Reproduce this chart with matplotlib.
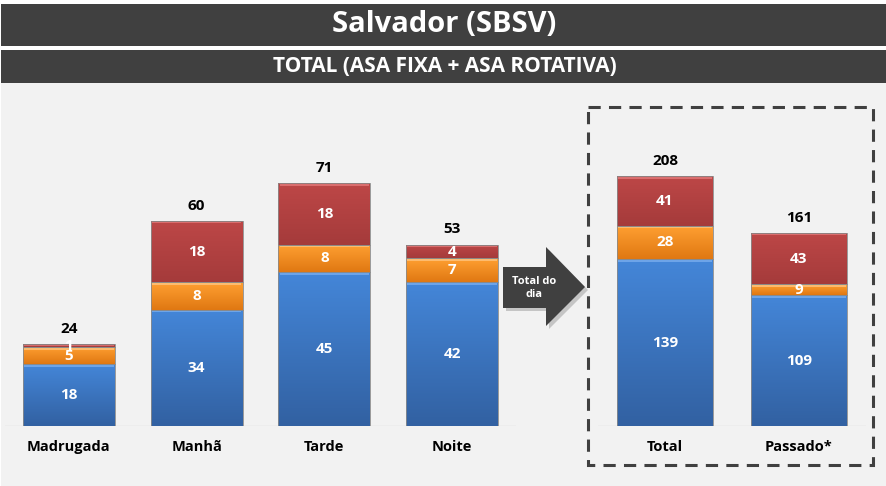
import numpy as np
import matplotlib.pyplot as plt
from matplotlib.patches import Rectangle, Polygon
from matplotlib.colors import to_rgb

plt.rcParams['font.family'] = ['Open Sans', 'DejaVu Sans']

# dados
periodos = ['Madrugada', 'Manhã', 'Tarde', 'Noite']
azul = [18, 34, 45, 42]
laranja = [5, 8, 8, 7]
vermelho = [1, 18, 18, 4]

resumo = ['Total', 'Passado*']
resumo_azul = [139, 109]
resumo_laranja = [28, 9]
resumo_vermelho = [41, 43]

W, H = 887, 486
BASE = 426

# cores: (topo, base, brilho)
CORES = {
    'azul': ('#4486d8', '#3261a2', '#7fb2f0'),
    'laranja': ('#ffa032', '#e07812', '#ffc98a'),
    'vermelho': ('#bd4747', '#a53b3b', '#e88080'),
}


def px_box(x0, y0, x1, y1):
    return [x0 / W, 1 - y1 / H, (x1 - x0) / W, (y1 - y0) / H]


def draw_stack(ax, cats, series, width, px_per_unit):
    x = np.arange(len(cats))
    bottom = np.zeros(len(cats))
    for valores, nome in series:
        top_c, bot_c, hi_c = CORES[nome]
        bars = ax.bar(x, valores, width, bottom=bottom, color='none',
                      edgecolor='#8a8a8a', linewidth=0.6, zorder=3)
        grad = np.linspace(to_rgb(bot_c), to_rgb(top_c), 64)[:, None, :]
        for b, v, b0 in zip(bars, valores, bottom):
            x0, x1 = b.get_x(), b.get_x() + b.get_width()
            im = ax.imshow(grad, extent=(x0, x1, b0, b0 + v), origin='lower',
                           aspect='auto', zorder=2, interpolation='bilinear')
            im.set_clip_path(b)
            hl = 1.5 / px_per_unit
            ax.add_patch(Rectangle((x0 + 0.01, b0 + v - hl * 1.6), x1 - x0 - 0.02, hl,
                                   color=hi_c, alpha=0.7, lw=0, zorder=2.5))
            ax.text(b.get_x() + b.get_width() / 2, b0 + v / 2, str(v),
                    ha='center', va='center', color='white',
                    fontsize=11, fontweight='bold', zorder=4)
        bottom = bottom + np.array(valores)
    for xi, t in zip(x, bottom):
        ax.annotate(str(int(t)), (xi, t), xytext=(0, 11), textcoords='offset points',
                    ha='center', va='center', fontsize=11, fontweight='bold', color='black')
    ax.axhline(0, color='#d9d9d9', lw=1, zorder=1)
    ax.set_xlim(-0.5, len(cats) - 0.5)
    ax.set_xticks(x)
    ax.set_xticklabels(cats, fontsize=10.5, fontweight='bold')
    ax.tick_params(axis='x', length=0, pad=10)
    ax.set_yticks([])
    for s in ax.spines.values():
        s.set_visible(False)
    ax.patch.set_alpha(0)


fig = plt.figure(figsize=(W / 100, H / 100), dpi=100, facecolor='white')

bg = fig.add_axes([0, 0, 1, 1])
bg.set_xlim(0, W)
bg.set_ylim(H, 0)
bg.axis('off')
bg.add_patch(Rectangle((1, 83), W, H - 83, color='#f2f2f2', lw=0))
bg.add_patch(Rectangle((1, 4), W, 42, color='#404040', lw=0))
bg.add_patch(Rectangle((1, 50), W, 33, color='#404040', lw=0))
bg.text(W / 2 + 1, 25, 'Salvador (SBSV)', ha='center', va='center', color='white',
        fontsize=21, fontweight='bold')
bg.text(W / 2 + 1, 66.5, 'TOTAL (ASA FIXA + ASA ROTATIVA)', ha='center', va='center',
        color='white', fontsize=15, fontweight='bold')

# seta "Total do dia"
seta = [(503, 267), (546, 267), (546, 247), (585, 287), (546, 326), (546, 308), (503, 308)]
bg.add_patch(Polygon([(px + 3, py + 3) for px, py in seta], color='#9a9a9a', alpha=0.5, lw=0))
bg.add_patch(Polygon(seta, color='#404040', lw=0))
bg.text(534, 288, 'Total do\ndia', ha='center', va='center', color='white',
        fontsize=8, fontweight='bold', linespacing=1.3)

# caixa tracejada
bg.add_patch(Rectangle((588, 107), 285, 358, fill=False, edgecolor='#404040',
                       lw=2.2, linestyle=(0, (4, 2.7))))

ax1 = fig.add_axes(px_box(5, 90, 516, BASE))
draw_stack(ax1, periodos, [(azul, 'azul'), (laranja, 'laranja'), (vermelho, 'vermelho')],
           0.72, 3.42)
ax1.set_ylim(0, (BASE - 90) / 3.42)

ax2 = fig.add_axes(px_box(598, 90, 866, BASE))
draw_stack(ax2, resumo, [(resumo_azul, 'azul'), (resumo_laranja, 'laranja'),
                         (resumo_vermelho, 'vermelho')], 0.716, 1.2)
ax2.set_ylim(0, (BASE - 90) / 1.2)

fig.savefig('out.png', dpi=100, facecolor=fig.get_facecolor())
